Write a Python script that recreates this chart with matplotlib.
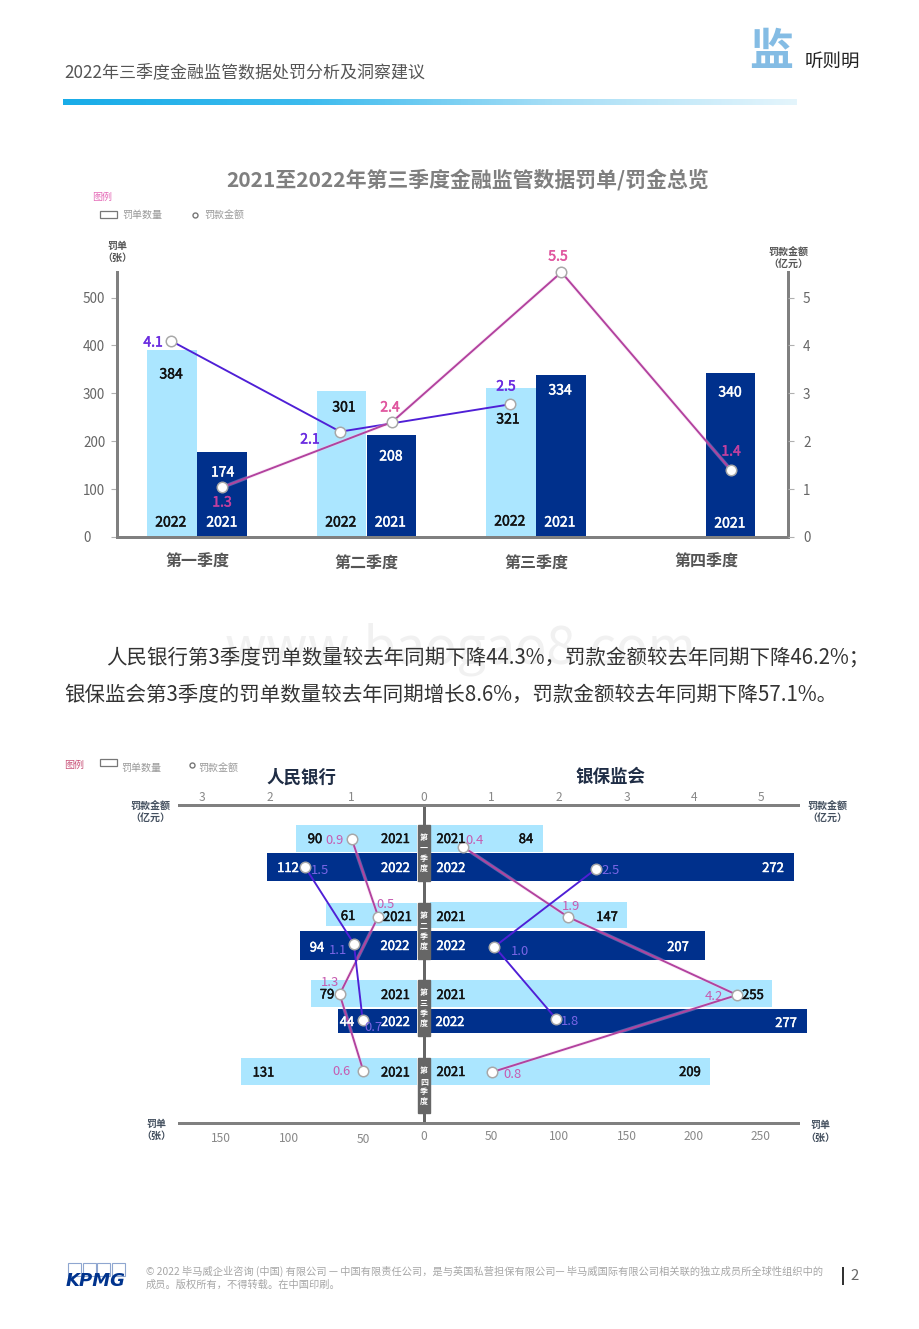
import numpy as np
import matplotlib
matplotlib.use("Agg")
import matplotlib.pyplot as plt
import matplotlib.patheffects as pe
from matplotlib.colors import LinearSegmentedColormap
from matplotlib.patches import Rectangle

plt.rcParams['font.family'] = ['Noto Sans CJK SC', 'DejaVu Sans']

# ---------- data: overview chart ----------
quarters = ['第一季度', '第二季度', '第三季度', '第四季度']
tickets_2022 = [390, 305, 311]          # drawn bar heights
tickets_2021 = [177, 212, 338, 342]
tickets_2022_labels = ['384', '301', '321']
tickets_2021_labels = ['174', '208', '334', '340']
fines_2022 = [4.1, 2.2, 2.77]           # drawn point heights
fines_2021 = [1.04, 2.4, 5.53, 1.4]
fines_2022_labels = ['4.1', '2.1', '2.5']
fines_2021_labels = ['1.3', '2.4', '5.5', '1.4']
y_ticks_left = [0, 100, 200, 300, 400, 500]
y_ticks_right = [0, 1, 2, 3, 4, 5]

# ---------- data: regulators chart ----------
pboc_2021 = [90, 68, 79, 131]           # drawn bar lengths
pboc_2022 = [112, 87, 59]
pboc_2021_labels = ['90', '61', '79', '131']
pboc_2022_labels = ['112', '94', '44']
cbirc_2021 = [84, 147, 255, 209]
cbirc_2022 = [272, 205, 281]
cbirc_2021_labels = ['84', '147', '255', '209']
cbirc_2022_labels = ['272', '207', '277']
pboc_fine_2021 = [1.06, 0.67, 1.24, 0.89]   # drawn point positions
pboc_fine_2022 = [1.75, 1.03, 0.90]
cbirc_fine_2021 = [0.59, 2.14, 4.64, 1.02]
cbirc_fine_2022 = [2.55, 1.05, 1.96]
pboc_fine_2021_labels = ['0.9', '0.5', '1.3', '0.6']
pboc_fine_2022_labels = ['1.5', '1.1', '0.7']
cbirc_fine_2021_labels = ['0.4', '1.9', '4.2', '0.8']
cbirc_fine_2022_labels = ['2.5', '1.0', '1.8']

# ---------- styles ----------
W, H = 920, 1329
LIGHT, DARK = '#abe6ff', '#00308c'
AXIS = '#808080'
PURPLE, PINK = '#4f1fd6', '#b2429e'
PX = 72 / 100
HALO = [pe.Stroke(linewidth=3.6 * PX, foreground='#f6c6ec', alpha=0.35), pe.Normal()]

fig = plt.figure(figsize=(W / 100, H / 100), dpi=100, facecolor='white')


def axes_px(left, top, right, bottom, **kw):
    return fig.add_axes([left / W, 1 - bottom / H, (right - left) / W, (bottom - top) / H], **kw)


def fine_series(axis, xs, ys, color, halo=False):
    axis.plot(xs, ys, '-', color=color, lw=1.9 * PX, zorder=4, clip_on=False,
              path_effects=HALO if halo else None)
    axis.plot(xs, ys, 'o', ms=10.5 * PX, mfc='white', mec='#a8a8a8', mew=1.5 * PX,
              zorder=5, clip_on=False)


# ---------- overview chart ----------
ax = axes_px(117, 272, 788, 537)
q_x = np.arange(4)
ax.set_xlim((117 - 197) / 169.5, (788 - 197) / 169.5)
ax.set_ylim(0, 265 / 0.4788)
bw = 0.293
ax.bar(q_x[:3] - 0.148, tickets_2022, bw, color=LIGHT, zorder=2)
ax.bar(q_x + 0.148, tickets_2021, bw, color=DARK, zorder=2)
ax.spines['top'].set_visible(False)
for s in ('left', 'bottom', 'right'):
    ax.spines[s].set_color(AXIS)
    ax.spines[s].set_linewidth(3 * PX)
ax.set_xticks([])
ax.set_yticks(y_ticks_left)
ax.tick_params(axis='y', length=6 * PX, width=0.8, color='#b0b0b0', labelsize=13.5 * PX,
               labelcolor='#666666', pad=28 * PX)
for lab in ax.get_yticklabels():
    lab.set_ha('left')

axr = ax.twinx()
axr.set_ylim(0, 265 / 47.88)
axr.set_yticks(y_ticks_right)
axr.tick_params(axis='y', length=6 * PX, width=0.8, color='#b0b0b0', labelsize=13.5 * PX,
                labelcolor='#666666', pad=9 * PX)
for s in axr.spines.values():
    s.set_visible(False)
fine_series(axr, q_x[:3] - 0.155, fines_2022, PURPLE)
fine_series(axr, q_x + 0.15, fines_2021, PINK, halo=True)

# ---------- regulators chart ----------
CX = 423.5
SCALE = 1.34     # px per ticket
FINE = 67.6      # px per 100 million yuan
L, R, T_, B = 170, 815, 805, 1123
a2 = axes_px(L, T_, R, B)
a2.set_xlim((L - CX) / SCALE, (R - CX) / SCALE)
a2.set_ylim(B, T_)
a2.patch.set_alpha(0)
a2.set_xticks([])
a2.set_yticks([])
for s in ('left', 'right'):
    a2.spines[s].set_visible(False)
for s in ('top', 'bottom'):
    a2.spines[s].set_color(AXIS)
    a2.spines[s].set_linewidth(3 * PX)
    a2.spines[s].set_bounds((179 - CX) / SCALE, (798 - CX) / SCALE)
a2.axvline(0, color='#666666', lw=3 * PX, zorder=1)

off = 6.5 / SCALE
rows_2021 = [838.5, 914.5, 993.5, 1071.5]
rows_2022 = [867.2, 945, 1021.2]
heights_2021 = [27, 23, 27, 27]
heights_2022 = [27.5, 29, 24.5]
a2.barh(rows_2021, [-v for v in pboc_2021], heights_2021, left=-off, color=LIGHT, zorder=2)
a2.barh(rows_2022, [-v for v in pboc_2022], heights_2022, left=-off, color=DARK, zorder=2)
a2.barh(rows_2021, cbirc_2021, [27, 26, 27, 27], left=off, color=LIGHT, zorder=2)
a2.barh(rows_2022, cbirc_2022, heights_2022, left=off, color=DARK, zorder=2)
for top, bot in [(825, 881), (903, 959), (980, 1036), (1058, 1113)]:
    a2.add_patch(Rectangle((-6 / SCALE, top), 12 / SCALE, bot - top, color='#666666', zorder=3))

a3 = a2.twiny()
a3.set_xlim((L - CX) / FINE, (R - CX) / FINE)
a3.set_xticks([])
for s in a3.spines.values():
    s.set_visible(False)
fine_series(a3, [-v for v in pboc_fine_2021], [839.3, 916.7, 994.3, 1071], PINK, halo=True)
fine_series(a3, [-v for v in pboc_fine_2022], [867.3, 943.7, 1020], PURPLE)
fine_series(a3, cbirc_fine_2021, [847, 917, 995, 1072], PINK, halo=True)
fine_series(a3, cbirc_fine_2022, [869, 946.7, 1018.7], PURPLE)

# ---------- header gradient ----------
hb = axes_px(63, 99, 797, 105)
cm = LinearSegmentedColormap.from_list('hdr', ['#18ace8', '#3dbbee', '#a6def6', '#e4f5fc'])
hb.imshow(np.linspace(0, 1, 256)[None, :], aspect='auto', cmap=cm)
hb.axis('off')

# ---------- text overlay in pixel coordinates ----------
ov = axes_px(0, 0, W, H)
ov.set_xlim(0, W)
ov.set_ylim(H, 0)
ov.axis('off')


def t(x, y, s, px=13, c='#333333', w='normal', ha='center', **kw):
    ov.text(x, y + 1.5, s, fontsize=px * PX, color=c, fontweight=w, ha=ha, va='center', **kw)


def num(x, y, s, px, c):
    ov.text(x, y + 1.5, s, fontsize=px * PX, color=c, ha='center', va='center',
            path_effects=[pe.withStroke(linewidth=0.35, foreground=c)])


t(460, 648, 'www.baogao8.com', 52, '#f1f1f1')
t(64, 71, '2022年三季度金融监管数据处罚分析及洞察建议', 17, '#555555', ha='left')
t(771, 51, '监', 44, '#84bce4', 'bold')
t(832, 60, '听则明', 18.5, '#222222')
t(468, 178, '2021至2022年第三季度金融监管数据罚单/罚金总览', 20.9, '#7f7f7f', 'bold')

# legend 1
t(92, 195, '图例', 10, '#e56cb8', ha='left')
ov.add_patch(Rectangle((100.5, 211), 17, 7, fc='white', ec='#777777', lw=0.9))
t(122, 213.5, '罚单数量', 10, '#999999', ha='left')
ov.plot([195], [214.5], 'o', ms=5 * PX, mfc='white', mec='#777777', mew=1)
t(204, 213.5, '罚款金额', 10, '#999999', ha='left')

t(117, 244, '罚单', 10, '#555555', 'bold')
t(117, 256, '（张）', 10, '#555555', 'bold')
t(788, 250, '罚款金额', 10, '#555555', 'bold')
t(788, 262, '（亿元）', 10, '#555555', 'bold')

for x, y, q in zip([197, 366, 536, 706], [560, 562, 562, 560], quarters):
    t(x, y, q, 16, '#555555', 'bold')

lab = 14
for (x, y), s in zip([(171, 373), (344, 406), (508, 418)], tickets_2022_labels):
    num(x, y, s, lab, '#111111')
for (x, y), s in zip([(222.5, 471), (391, 455), (560, 389), (730, 391)], tickets_2021_labels):
    num(x, y, s, lab, 'white')
for x, y in [(171, 521), (341, 521), (510, 520)]:
    num(x, y, '2022', lab, '#111111')
for x, y in [(222, 521), (390.5, 521), (560, 521), (730, 522)]:
    num(x, y, '2021', lab, 'white')
for (x, y), s in zip([(153, 341), (310, 438), (506, 385)], fines_2022_labels):
    num(x, y, s, lab, '#6a2be0')
for (x, y), s, c in zip([(222, 501), (390, 406), (558, 255), (731, 450)], fines_2021_labels,
                        ['#c2409f', '#e0569f', '#e0569f', '#c2409f']):
    num(x, y, s, lab, c)

# paragraph
t(106, 656, '人民银行第3季度罚单数量较去年同期下降44.3%，罚款金额较去年同期下降46.2%；', 20.45, '#333333', ha='left')
t(64.5, 693, '银保监会第3季度的罚单数量较去年同期增长8.6%，罚款金额较去年同期下降57.1%。', 20.45, '#333333', ha='left')

# legend 2
t(64, 763, '图例', 10, '#c9547a', ha='left')
ov.add_patch(Rectangle((100.5, 759), 17, 7, fc='white', ec='#777777', lw=0.9))
t(121, 766, '罚单数量', 10, '#999999', ha='left')
ov.plot([192], [765], 'o', ms=5 * PX, mfc='white', mec='#777777', mew=1)
t(198, 766, '罚款金额', 10, '#999999', ha='left')

t(301, 776, '人民银行', 17.5, '#1f2d45', 'bold')
t(611, 776, '银保监会', 17.5, '#1f2d45', 'bold')
for x in (150, 827):
    t(x, 804, '罚款金额', 10, '#44505f', 'bold')
    t(x, 816, '（亿元）', 10, '#44505f', 'bold')
t(156, 1122, '罚单', 10, '#44505f', 'bold')
t(156, 1134, '（张）', 10, '#44505f', 'bold')
t(820, 1123, '罚单', 10, '#44505f', 'bold')
t(820, 1136, '（张）', 10, '#44505f', 'bold')

for x, s in zip([202, 270, 351, 424, 491, 559, 627, 694, 761], ['3', '2', '1', '0', '1', '2', '3', '4', '5']):
    t(x, 796, s, 12, '#888888')
for x, y, s in zip([221, 289, 363, 424, 491, 559, 627, 694, 761],
                   [1137, 1137, 1138, 1135, 1135, 1135, 1135, 1135, 1135],
                   ['150', '100', '50', '0', '50', '100', '150', '200', '250']):
    t(x, y, s, 12, '#888888')

for top in (825, 903, 980, 1058):
    for dy, ch in zip((11, 22, 32, 42), '第' + {825: '一', 903: '二', 980: '三', 1058: '四'}[top] + '季度'):
        t(424, top + dy, ch, 8, 'white', 'bold')

lab2 = 13
for (x, y), s in zip([(315, 838), (348, 915), (327, 993.5), (263.5, 1071.5)], pboc_2021_labels):
    num(x, y, s, lab2, '#111111')
for (x, y), s in zip([(288, 867), (317, 946.5), (347, 1021)], pboc_2022_labels):
    num(x, y, s, lab2, 'white')
for (x, y), s in zip([(526, 838), (607, 916), (753, 994), (690, 1071)], cbirc_2021_labels):
    num(x, y, s, lab2, '#111111')
for (x, y), s in zip([(773, 867), (678, 946), (786, 1022)], cbirc_2022_labels):
    num(x, y, s, lab2, 'white')
for x, y in [(395.5, 838), (397.5, 916), (395.5, 994), (395.5, 1071.5),
             (451, 838), (451, 916), (451, 994), (451, 1071)]:
    num(x, y, '2021', lab2, '#111111')
for x, y in [(395.5, 867), (395, 945), (395.5, 1021), (451, 867), (451, 945), (450, 1021)]:
    num(x, y, '2022', lab2, 'white')

pink_lab = '#c65bb0'
blue_lab = '#7a66e6'
for (x, y), s in zip([(334.5, 839), (386, 903), (330, 981), (341, 1070)], pboc_fine_2021_labels):
    t(x, y, s, lab2, pink_lab)
for (x, y), s in zip([(320, 869), (338, 949), (373, 1026)], pboc_fine_2022_labels):
    t(x, y, s, lab2, blue_lab)
for (x, y), s in zip([(475, 839), (571, 905), (713.5, 995), (513, 1073)], cbirc_fine_2021_labels):
    t(x, y, s, lab2, pink_lab)
for (x, y), s in zip([(611, 869), (520.5, 950), (570, 1020)], cbirc_fine_2022_labels):
    t(x, y, s, lab2, blue_lab)

# footer
for x in (68.5, 83, 97.5, 112):
    ov.add_patch(Rectangle((x, 1263), 13, 13, fc='white', ec='#8fa6d0', lw=0.8))
t(66, 1279.5, 'KPMG', 18, '#00338d', 'bold', ha='left', style='italic', family=['DejaVu Sans'])
t(146, 1270, '© 2022 毕马威企业咨询 (中国) 有限公司 — 中国有限责任公司，是与英国私营担保有限公司— 毕马威国际有限公司相关联的独立成员所全球性组织中的',
  10.2, '#a6a6a6', ha='left')
t(146, 1283, '成员。版权所有，不得转载。在中国印刷。', 10.2, '#a6a6a6', ha='left')
ov.plot([843, 843], [1268, 1284], color='#333333', lw=2 * PX)
t(854.5, 1274, '2', 15, '#666666')

fig.savefig('out.png', dpi=100, facecolor='white')
